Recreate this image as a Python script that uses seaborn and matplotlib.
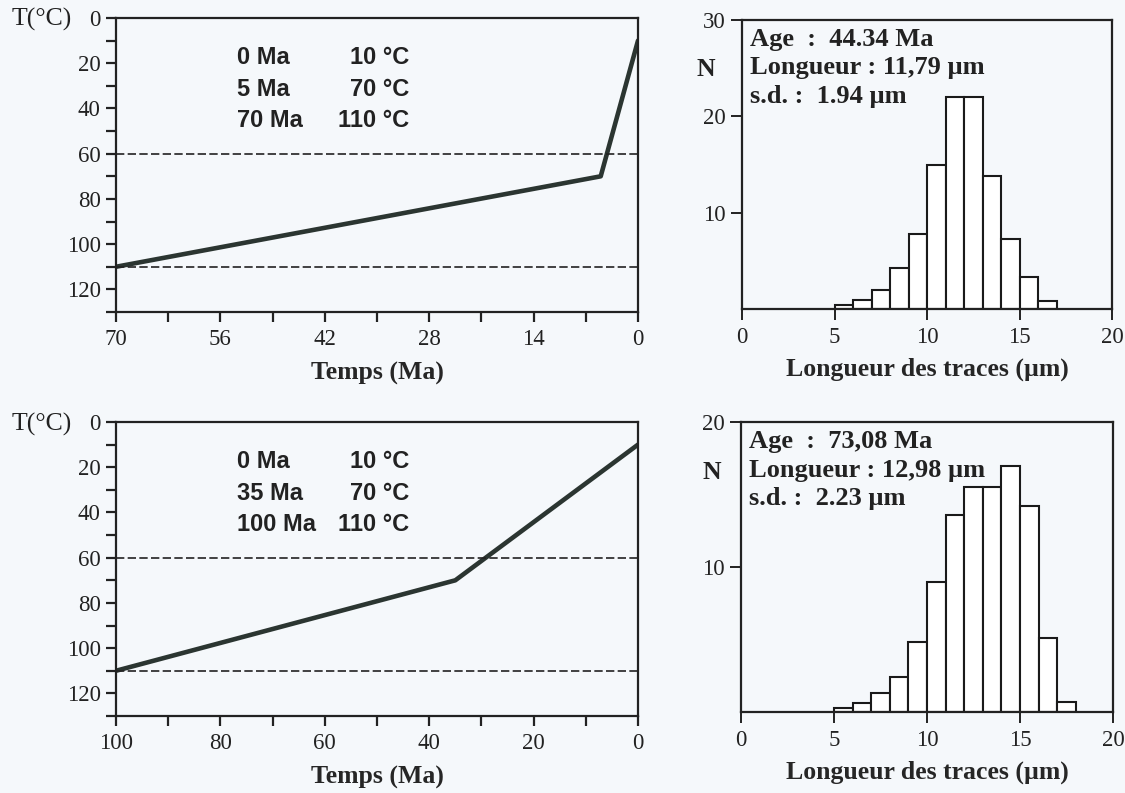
import numpy as np
import pandas as pd
import seaborn as sns
import matplotlib.pyplot as plt
from matplotlib.ticker import MultipleLocator

# Thermal histories (age in Ma, temperature in degC)
ages_a = [70, 5, 0]
temps_a = [110, 70, 10]
ages_b = [100, 35, 0]
temps_b = [110, 70, 10]

# Partial annealing zone limits
paz_limits = [60, 110]

# Track length histograms (1 um bins starting at 5 um)
bins_a = [5, 6, 7, 8, 9, 10, 11, 12, 13, 14, 15, 16, 17]
counts_a = [0.4, 0.9, 2.0, 4.3, 7.8, 15.0, 22.0, 22.0, 13.8, 7.3, 3.3, 0.8]
bins_b = [5, 6, 7, 8, 9, 10, 11, 12, 13, 14, 15, 16, 17, 18]
counts_b = [0.3, 0.6, 1.3, 2.4, 4.8, 9.0, 13.6, 15.5, 15.5, 17.0, 14.2, 5.1, 0.7]

labels_a = ["0 Ma", "5 Ma", "70 Ma"]
values_a = ["10 °C", "70 °C", "110 °C"]
labels_b = ["0 Ma", "35 Ma", "100 Ma"]
values_b = ["10 °C", "70 °C", "110 °C"]

stats_a = ["Age  :  44.34 Ma", "Longueur : 11,79 µm", "s.d. :  1.94 µm"]
stats_b = ["Age  :  73,08 Ma", "Longueur : 12,98 µm", "s.d. :  2.23 µm"]

sns.set_style("ticks")
plt.rcParams['font.family'] = ['Liberation Serif', 'DejaVu Serif']
plt.rcParams['axes.edgecolor'] = '#222222'
plt.rcParams['text.color'] = '#222222'
plt.rcParams['xtick.color'] = '#222222'
plt.rcParams['ytick.color'] = '#222222'

W, H = 1125, 793
bg = '#f5f8fb'
ink = '#2b3531'
fig = plt.figure(figsize=(W / 100, H / 100), dpi=100, facecolor=bg)


def box(l, r, t, b):
    return [l / W, (H - b) / H, (r - l) / W, (b - t) / H]


def history_panel(rect, ages, temps, tmax, xstep, labels, values):
    ax = fig.add_axes(rect, facecolor=bg)
    df = pd.DataFrame({"age": ages, "temp": temps})
    sns.lineplot(data=df, x="age", y="temp", sort=False, estimator=None,
                 color=ink, lw=3.3, ax=ax)
    for t in paz_limits:
        ax.axhline(t, color='#222222', lw=1.2, dashes=(5, 2))
    ax.set_xlim(tmax, 0)
    ax.set_ylim(130, 0)
    ax.xaxis.set_major_locator(MultipleLocator(xstep))
    ax.xaxis.set_minor_locator(MultipleLocator(xstep / 2))
    ax.yaxis.set_major_locator(MultipleLocator(20))
    ax.yaxis.set_minor_locator(MultipleLocator(10))
    ax.set_yticks(range(0, 121, 20))
    ax.tick_params(which='both', length=7, width=1.6, labelsize=16.5)
    ax.tick_params(axis='x', pad=5)
    ax.tick_params(axis='y', pad=4)
    for s in ax.spines.values():
        s.set_linewidth(1.6)
    ax.set_xlabel("Temps (Ma)", fontsize=18.5, fontweight='bold', labelpad=9)
    ax.set_ylabel("")
    for i, (lab, val) in enumerate(zip(labels, values)):
        y = 0.865 - i * 0.107
        ax.text(0.232, y, lab, transform=ax.transAxes, fontsize=17,
                fontweight='bold', family='Liberation Sans', va='center', ha='left')
        ax.text(0.561, y, val, transform=ax.transAxes, fontsize=17,
                fontweight='bold', family='Liberation Sans', va='center', ha='right')
    return ax


def hist_panel(rect, bins, counts, ymax, stats):
    ax = fig.add_axes(rect, facecolor=bg)
    centers = np.array(bins[:-1]) + 0.5
    sns.histplot(x=centers, weights=counts, bins=bins, ax=ax,
                 color='white', alpha=1, edgecolor='#1a1a1a', linewidth=1.5)
    ax.set_xlim(0, 20)
    ax.set_ylim(0, ymax)
    ax.set_xticks([0, 5, 10, 15, 20])
    ax.set_yticks(list(range(10, ymax + 1, 10)))
    ax.tick_params(which='both', length=8, width=1.4, labelsize=16.5)
    ax.tick_params(axis='x', pad=5)
    for s in ax.spines.values():
        s.set_linewidth(1.6)
    ax.set_ylabel("")
    ax.set_xlabel("Longueur des traces (µm)", fontsize=18.5, fontweight='bold', labelpad=7)
    for i, s in enumerate(stats):
        ax.text(0.022, 0.932 - i * 0.098, s, transform=ax.transAxes,
                fontsize=19, fontweight='bold', va='center', ha='left')
    return ax


history_panel(box(116, 638, 18, 312), ages_a, temps_a, 70, 14, labels_a, values_a)
history_panel(box(116, 638, 422, 716), ages_b, temps_b, 100, 20, labels_b, values_b)
hist_panel(box(742, 1112, 20, 309), bins_a, counts_a, 30, stats_a)
hist_panel(box(741, 1113, 422, 712), bins_b, counts_b, 20, stats_b)

fig.text(42 / W, 1 - 19 / H, "T(°C)", fontsize=18.5, ha='center', va='center')
fig.text(42 / W, 1 - 424 / H, "T(°C)", fontsize=18.5, ha='center', va='center')
fig.text(706 / W, 1 - 70 / H, "N", fontsize=18.5, fontweight='bold', ha='center', va='center')
fig.text(712 / W, 1 - 473 / H, "N", fontsize=18.5, fontweight='bold', ha='center', va='center')

fig.savefig("out.png", dpi=100, facecolor=bg)
